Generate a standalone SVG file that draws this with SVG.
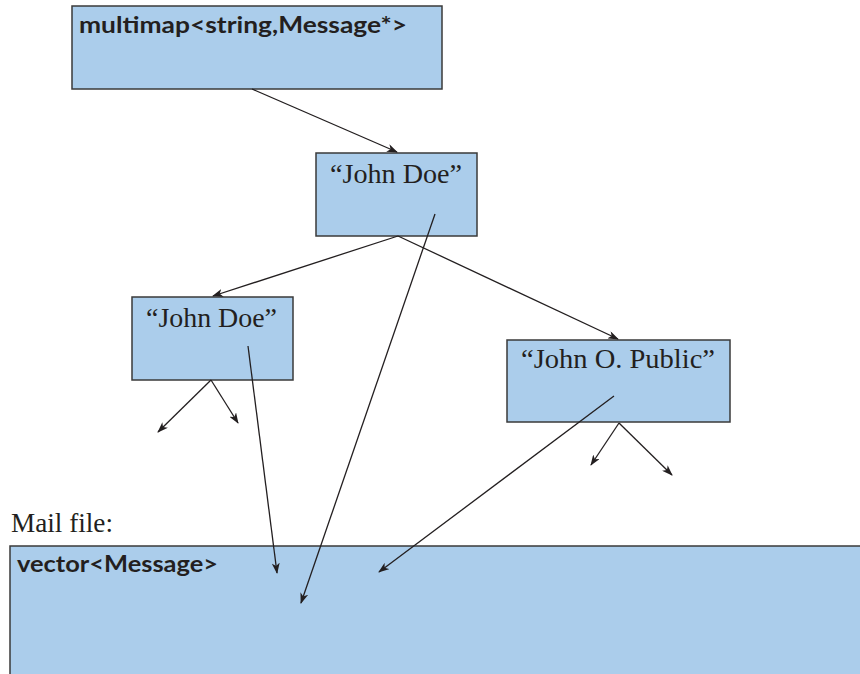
<svg xmlns="http://www.w3.org/2000/svg" width="860" height="674" viewBox="0 0 860 674">
<style>
.box{fill:#abcdeb;stroke:#3a3a3a;stroke-width:1.5}
.serif{font-family:"Liberation Serif","Times New Roman",serif;font-size:28px;fill:#231f20}
.bold{font-family:Lato,"Liberation Sans",sans-serif;font-weight:bold;font-size:23px;fill:#231f20}
.edge{stroke:#231f20;stroke-width:1.3;fill:none;marker-end:url(#ah)}
</style>
<defs>
<marker id="ah" markerWidth="11" markerHeight="8" refX="10" refY="4" orient="auto" markerUnits="userSpaceOnUse">
<path d="M0,0 L11,4 L0,8 L3,4 Z" fill="#231f20"/>
</marker>
</defs>
<rect width="860" height="674" fill="#ffffff"/>
<g id="multimap">
<rect class="box" x="72" y="6" width="370" height="83"/>
<text class="bold" x="79" y="33" textLength="328" lengthAdjust="spacingAndGlyphs">multimap&lt;string,Message*&gt;</text>
</g>
<g id="root">
<rect class="box" x="316" y="153" width="161" height="83"/>
<text class="serif" x="330" y="183" textLength="132" lengthAdjust="spacingAndGlyphs">“John Doe”</text>
</g>
<g id="left">
<rect class="box" x="132" y="297" width="161" height="83"/>
<text class="serif" x="146" y="327" textLength="131" lengthAdjust="spacingAndGlyphs">“John Doe”</text>
</g>
<g id="right">
<rect class="box" x="507" y="340" width="223" height="82"/>
<text class="serif" x="521" y="368" textLength="194" lengthAdjust="spacingAndGlyphs">“John O. Public”</text>
</g>
<g id="mailfile">
<text class="serif" x="11" y="532" font-size="26" textLength="102" lengthAdjust="spacingAndGlyphs">Mail file:</text>
<rect x="10" y="546" width="852" height="140" fill="#abcdeb"/>
<path d="M10,680 V546 H862" fill="none" stroke="#3a3a3a" stroke-width="1.5"/>
<text class="bold" x="17" y="572" textLength="201" lengthAdjust="spacingAndGlyphs">vector&lt;Message&gt;</text>
</g>
<g id="connectors">
<line class="edge" x1="252" y1="89" x2="397" y2="152"/>
<line class="edge" x1="398" y1="236" x2="213" y2="296"/>
<line class="edge" x1="398" y1="236" x2="618" y2="339"/>
<line class="edge" x1="211" y1="380" x2="158" y2="432"/>
<line class="edge" x1="211" y1="380" x2="238" y2="423"/>
<line class="edge" x1="619" y1="423" x2="591" y2="465"/>
<line class="edge" x1="619" y1="423" x2="672" y2="475"/>
<line class="edge" x1="248" y1="346" x2="277" y2="573"/>
<line class="edge" x1="435" y1="214" x2="301" y2="603"/>
<line class="edge" x1="614" y1="396" x2="379" y2="572"/>
</g>
</svg>
